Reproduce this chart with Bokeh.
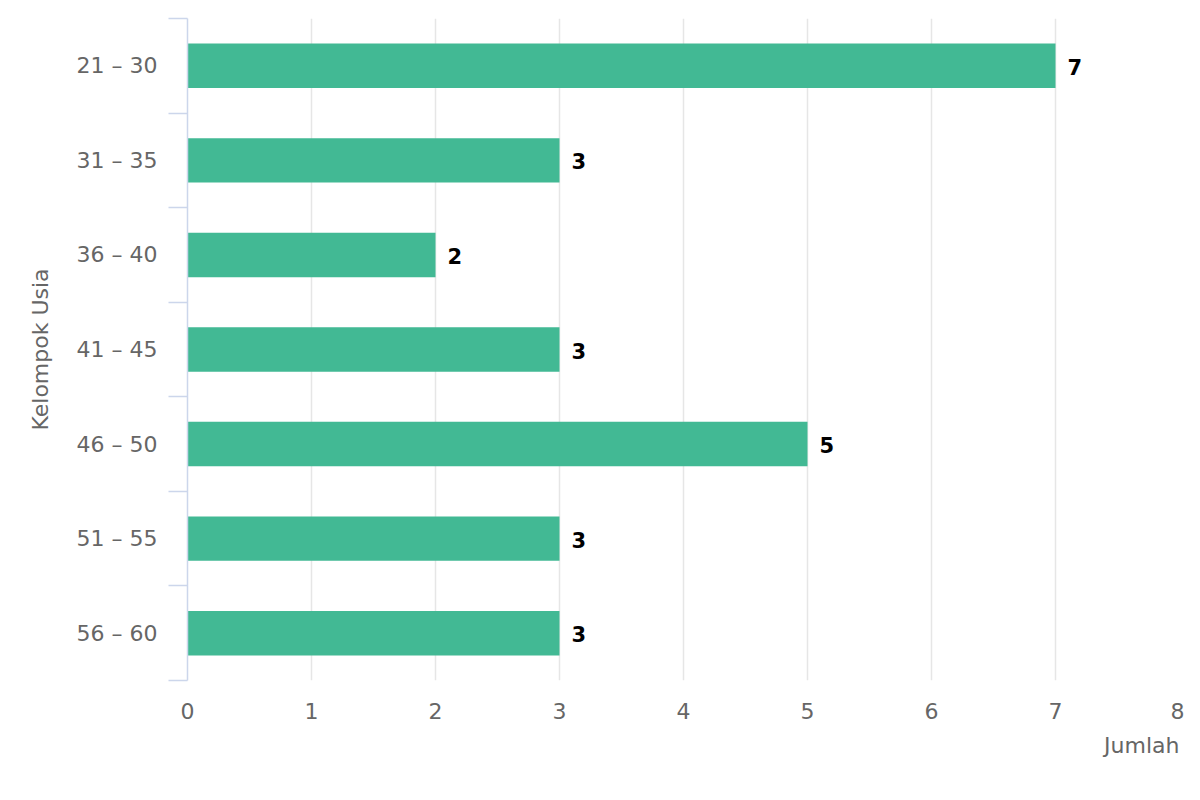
from bokeh.plotting import figure
from bokeh.models import ColumnDataSource, Range1d, FixedTicker, Title
from bokeh.core.properties import value
from bokeh.embed import file_html
from bokeh.resources import INLINE

categories = ["21 – 30", "31 – 35", "36 – 40", "41 – 45", "46 – 50", "51 – 55", "56 – 60"]
counts = [7, 3, 2, 3, 5, 3, 3]
x_ticks = [0, 1, 2, 3, 4, 5, 6, 7, 8]
x_title = "Jumlah"
y_title = "Kelompok Usia"

FONT = "DejaVu Sans"
BAR = "#42b994"
AXIS = "#ccd6eb"
GRID = "#e6e6e6"
LABEL = "#666666"

n = len(categories)
centers = [i + 0.5 for i in range(n)]
src = ColumnDataSource(dict(y=centers, v=counts, lab=[str(c) for c in counts]))

p = figure(width=1184, height=784, output_backend="svg", toolbar_location=None,
           x_range=Range1d(0, x_ticks[-1]), y_range=Range1d(n, 0),
           min_border_left=187, min_border_right=5, min_border_top=18, min_border_bottom=104)
p.outline_line_color = None
p.background_fill_color = "white"

p.hbar(y="y", left=0, right="v", height=0.47, source=src, fill_color=BAR, line_color=None)
p.text(x="v", y="y", text="lab", source=src, x_offset=12, y_offset=1, text_baseline="middle",
       text_align="left", text_font=value(FONT), text_font_size="21px",
       text_font_style="bold", text_color="#000000")

# x axis
xa = p.xaxis[0]
xa.ticker = FixedTicker(ticks=x_ticks)
xa.axis_line_color = None
xa.major_tick_line_color = None
xa.minor_tick_line_color = None
xa.major_label_text_font = FONT
xa.major_label_text_font_size = "22px"
xa.major_label_text_color = LABEL
xa.major_label_standoff = 16

xt = Title(text=x_title, align="right", text_font=FONT, text_font_size="22px",
           text_font_style="normal", text_color=LABEL, standoff=18, offset=0)
p.add_layout(xt, "below")

# y axis
ya = p.yaxis[0]
ya.ticker = FixedTicker(ticks=centers, minor_ticks=list(range(n + 1)))
ya.major_label_overrides = {c: cat for c, cat in zip(centers, categories)}
ya.axis_line_color = AXIS
ya.axis_line_width = 1.5
ya.major_tick_line_color = None
ya.major_tick_out = 0
ya.major_tick_in = 0
ya.minor_tick_line_color = AXIS
ya.minor_tick_line_width = 1.5
ya.minor_tick_out = 19
ya.minor_tick_in = 0
ya.major_label_text_font = FONT
ya.major_label_text_font_size = "22px"
ya.major_label_text_color = LABEL
ya.major_label_standoff = 11
ya.axis_label = y_title
ya.axis_label_text_font = FONT
ya.axis_label_text_font_size = "22px"
ya.axis_label_text_font_style = "normal"
ya.axis_label_text_color = LABEL
ya.axis_label_standoff = 21

p.xgrid.ticker = FixedTicker(ticks=x_ticks)
p.xgrid.grid_line_color = GRID
p.xgrid.grid_line_width = 1.5
p.ygrid.grid_line_color = None

open("out.html", "w").write(file_html(p, INLINE))
